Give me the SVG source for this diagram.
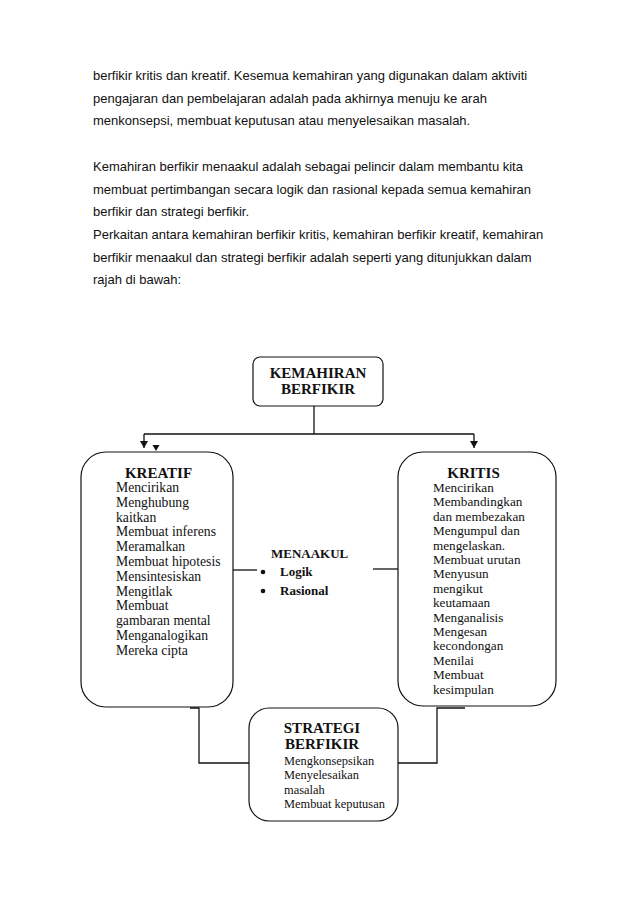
<svg xmlns="http://www.w3.org/2000/svg" width="638" height="903" viewBox="0 0 638 903">
<style>
.p{font-family:"Liberation Sans",Arial,sans-serif;font-size:13px;fill:#111}
.h{font-family:"Liberation Serif","Times New Roman",serif;font-size:15px;font-weight:bold;fill:#111}
.t{font-family:"Liberation Serif","Times New Roman",serif;font-size:13.7px;fill:#111}
.k{font-size:13.2px}
.s{font-size:12.4px}
.m{font-family:"Liberation Serif","Times New Roman",serif;font-size:13px;font-weight:bold;fill:#111}
.box{fill:#fff;stroke:#111;stroke-width:1.2}
.ln{fill:none;stroke:#111;stroke-width:1.3}
</style>
<defs>
<marker id="ah" markerWidth="8" markerHeight="8" refX="7" refY="4" orient="auto" markerUnits="userSpaceOnUse">
<path d="M0,0 L7,4 L0,8 Z" fill="#111"/>
</marker>
</defs>
<rect width="638" height="903" fill="#fff"/>
<g id="paragraph">
<text class="p" x="93" y="80">berfikir kritis dan kreatif. Kesemua kemahiran yang digunakan dalam aktiviti</text>
<text class="p" x="93" y="102.7">pengajaran dan pembelajaran adalah pada akhirnya menuju ke arah</text>
<text class="p" x="93" y="125.4">menkonsepsi, membuat keputusan atau menyelesaikan masalah.</text>
<text class="p" x="93" y="170.8">Kemahiran berfikir menaakul adalah sebagai pelincir dalam membantu kita</text>
<text class="p" x="93" y="193.5">membuat pertimbangan secara logik dan rasional kepada semua kemahiran</text>
<text class="p" x="93" y="216.2">berfikir dan strategi berfikir.</text>
<text class="p" x="93" y="238.9">Perkaitan antara kemahiran berfikir kritis, kemahiran berfikir kreatif, kemahiran</text>
<text class="p" x="93" y="261.6">berfikir menaakul dan strategi berfikir adalah seperti yang ditunjukkan dalam</text>
<text class="p" x="93" y="284.3">rajah di bawah:</text>
</g>
<g id="connectors">
<path class="ln" d="M314,406 V434"/>
<path class="ln" d="M144,434 H474"/>
<path class="ln" d="M144,434 V448" marker-end="url(#ah)"/>
<path class="ln" d="M474,434 V448" marker-end="url(#ah)"/>
<path d="M152.5,445 L159.5,445 L156,451 Z" fill="#111"/>
<path class="ln" d="M233,570 H257"/>
<path class="ln" d="M373,569 H398"/>
<path class="ln" d="M190,708 H199 V763 H249"/>
<path class="ln" d="M465,708 H437 V763 H398"/>
</g>
<g id="kemahiran">
<rect class="box" x="253" y="357" width="130" height="49" rx="7"/>
<text class="h" x="318" y="378" text-anchor="middle">KEMAHIRAN</text>
<text class="h" x="318" y="394" text-anchor="middle">BERFIKIR</text>
</g>
<g id="kreatif">
<rect class="box" x="81" y="452" width="152" height="255" rx="25"/>
<text class="h" x="158.5" y="478" text-anchor="middle">KREATIF</text>
<text class="t" x="116" y="492">Mencirikan</text>
<text class="t" x="116" y="506.8">Menghubung</text>
<text class="t" x="116" y="521.6">kaitkan</text>
<text class="t" x="116" y="536.4">Membuat inferens</text>
<text class="t" x="116" y="551.2">Meramalkan</text>
<text class="t" x="116" y="566">Membuat hipotesis</text>
<text class="t" x="116" y="580.8">Mensintesiskan</text>
<text class="t" x="116" y="595.6">Mengitlak</text>
<text class="t" x="116" y="610.4">Membuat</text>
<text class="t" x="116" y="625.2">gambaran mental</text>
<text class="t" x="116" y="640">Menganalogikan</text>
<text class="t" x="116" y="654.8">Mereka cipta</text>
</g>
<g id="kritis">
<rect class="box" x="398" y="452" width="158" height="254" rx="25"/>
<text class="h" x="473.5" y="478" text-anchor="middle">KRITIS</text>
<text class="t k" x="433" y="492">Mencirikan</text>
<text class="t k" x="433" y="506.4">Membandingkan</text>
<text class="t k" x="433" y="520.8">dan membezakan</text>
<text class="t k" x="433" y="535.2">Mengumpul dan</text>
<text class="t k" x="433" y="549.6">mengelaskan.</text>
<text class="t k" x="433" y="564">Membuat urutan</text>
<text class="t k" x="433" y="578.4">Menyusun</text>
<text class="t k" x="433" y="592.8">mengikut</text>
<text class="t k" x="433" y="607.2">keutamaan</text>
<text class="t k" x="433" y="621.6">Menganalisis</text>
<text class="t k" x="433" y="636">Mengesan</text>
<text class="t k" x="433" y="650.4">kecondongan</text>
<text class="t k" x="433" y="664.8">Menilai</text>
<text class="t k" x="433" y="679.2">Membuat</text>
<text class="t k" x="433" y="693.6">kesimpulan</text>
</g>
<g id="menaakul">
<text class="m" x="271" y="558">MENAAKUL</text>
<circle cx="263" cy="572" r="2.3" fill="#111"/>
<circle cx="263" cy="591" r="2.3" fill="#111"/>
<text class="m" x="280" y="576">Logik</text>
<text class="m" x="280" y="595">Rasional</text>
</g>
<g id="strategi">
<rect class="box" x="249" y="708" width="149" height="113" rx="20"/>
<text class="h" x="322" y="733" text-anchor="middle">STRATEGI</text>
<text class="h" x="322" y="749" text-anchor="middle">BERFIKIR</text>
<text class="t s" x="284" y="765">Mengkonsepsikan</text>
<text class="t s" x="284" y="779.4">Menyelesaikan</text>
<text class="t s" x="284" y="793.8">masalah</text>
<text class="t s" x="284" y="808.2">Membuat keputusan</text>
</g>
</svg>
